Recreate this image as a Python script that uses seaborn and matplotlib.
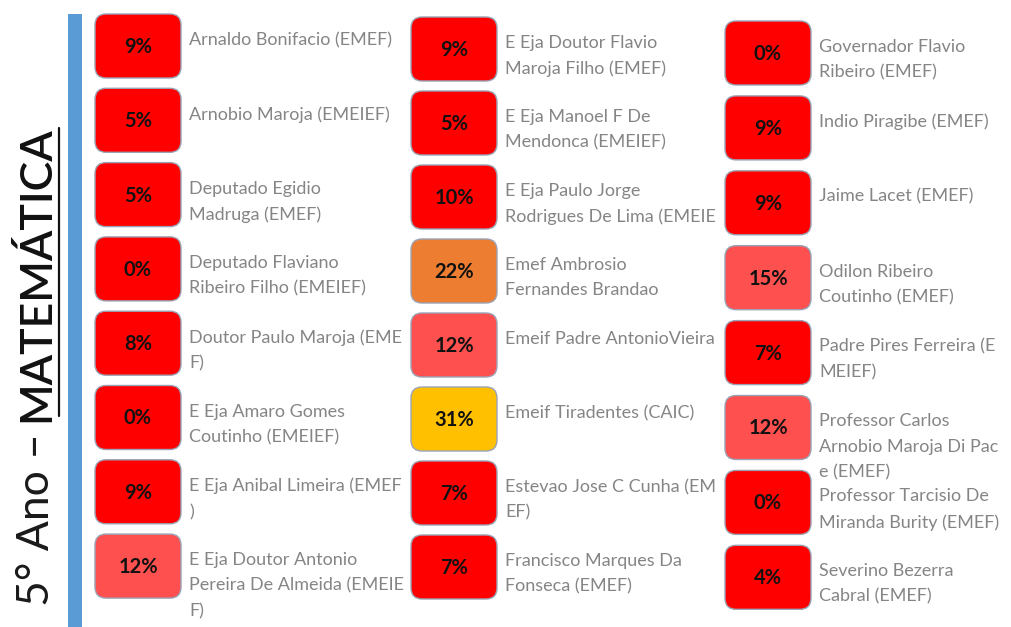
import matplotlib
matplotlib.use("Agg")
import matplotlib.pyplot as plt
from matplotlib.patches import FancyBboxPatch, Rectangle
import seaborn as sns

# dados: uma lista por coluna do painel
escolas_col1 = [
    "Arnaldo Bonifacio (EMEF)",
    "Arnobio Maroja (EMEIEF)",
    "Deputado Egidio\nMadruga (EMEF)",
    "Deputado Flaviano\nRibeiro Filho (EMEIEF)",
    "Doutor Paulo Maroja (EME\nF)",
    "E Eja Amaro Gomes\nCoutinho (EMEIEF)",
    "E Eja Anibal Limeira (EMEF\n)",
    "E Eja Doutor Antonio\nPereira De Almeida (EMEIE\nF)",
]
valores_col1 = [9, 5, 5, 0, 8, 0, 9, 12]

escolas_col2 = [
    "E Eja Doutor Flavio\nMaroja Filho (EMEF)",
    "E Eja Manoel F De\nMendonca (EMEIEF)",
    "E Eja Paulo Jorge\nRodrigues De Lima (EMEIE",
    "Emef Ambrosio\nFernandes Brandao",
    "Emeif Padre AntonioVieira",
    "Emeif Tiradentes (CAIC)",
    "Estevao Jose C Cunha (EM\nEF)",
    "Francisco Marques Da\nFonseca (EMEF)",
]
valores_col2 = [9, 5, 10, 22, 12, 31, 7, 7]

escolas_col3 = [
    "Governador Flavio\nRibeiro (EMEF)",
    "Indio Piragibe (EMEF)",
    "Jaime Lacet (EMEF)",
    "Odilon Ribeiro\nCoutinho (EMEF)",
    "Padre Pires Ferreira (E\nMEIEF)",
    "Professor Carlos\nArnobio Maroja Di Pac\ne (EMEF)",
    "Professor Tarcisio De\nMiranda Burity (EMEF)",
    "Severino Bezerra\nCabral (EMEF)",
]
valores_col3 = [0, 9, 9, 15, 7, 12, 0, 4]

titulo_1 = "5° Ano – "
titulo_2 = "MATEMÁTICA"

# faixas de cor (limite superior, cor)
faixas = [(10, "#FF0000"), (20, "#FF5050"), (30, "#ED7D31"), (100, "#FFC000")]


def cor_da_faixa(v):
    for lim, c in faixas:
        if v <= lim:
            return c
    return faixas[-1][1]


sns.set_theme(style="white")
plt.rcParams["font.family"] = ["Lato", "DejaVu Sans"]

fig = plt.figure(figsize=(10.11, 6.27), dpi=100)
ax = fig.add_axes([0, 0, 1, 1])
ax.set_xlim(0, 1011)
ax.set_ylim(627, 0)
ax.axis("off")

# layout (pixels)
col_x = [95, 411, 725]
col_topo = [14, 17, 21]
passo = [74.3, 74.0, 74.9]
larg, alt = 86, 64

colunas = [(escolas_col1, valores_col1), (escolas_col2, valores_col2), (escolas_col3, valores_col3)]
for c, (nomes, vals) in enumerate(colunas):
    for i, (nome, v) in enumerate(zip(nomes, vals)):
        y0 = col_topo[c] + i * passo[c]
        caixa = FancyBboxPatch((col_x[c] + 8, y0 + 8), larg - 16, alt - 16,
                               boxstyle="round,pad=8,rounding_size=11",
                               fc=cor_da_faixa(v), ec="#9AA3B5", lw=1.0)
        ax.add_patch(caixa)
        ax.text(col_x[c] + larg / 2, y0 + alt / 2 + 1, f"{v}%", ha="center", va="center",
                fontsize=14.5, fontweight="bold", color="#111111")
        ax.text(col_x[c] + larg + 8, y0 + 18, nome, ha="left", va="top",
                fontsize=13, color="#858585", linespacing=1.72)

# barra azul lateral
ax.add_patch(Rectangle((68, 14), 14, 627 - 14, fc="#5B9BD5", ec="none"))

# título vertical
t1 = ax.text(57, 606, titulo_1, rotation=90, ha="right", va="bottom",
             fontsize=32, fontweight="normal", color="#1a1a1a")
fig.canvas.draw()
bb = t1.get_window_extent().transformed(ax.transData.inverted())
topo_t1 = min(bb.y0, bb.y1)
t2 = ax.text(57, topo_t1, titulo_2, rotation=90, ha="right", va="bottom",
             fontsize=32, fontweight="semibold", color="#111111")
fig.canvas.draw()
bb2 = t2.get_window_extent().transformed(ax.transData.inverted())
ax.plot([59, 59], [max(bb2.y0, bb2.y1) - 6, min(bb2.y0, bb2.y1) + 2], color="#111111", lw=1.6)

fig.savefig("out.png", dpi=100)
